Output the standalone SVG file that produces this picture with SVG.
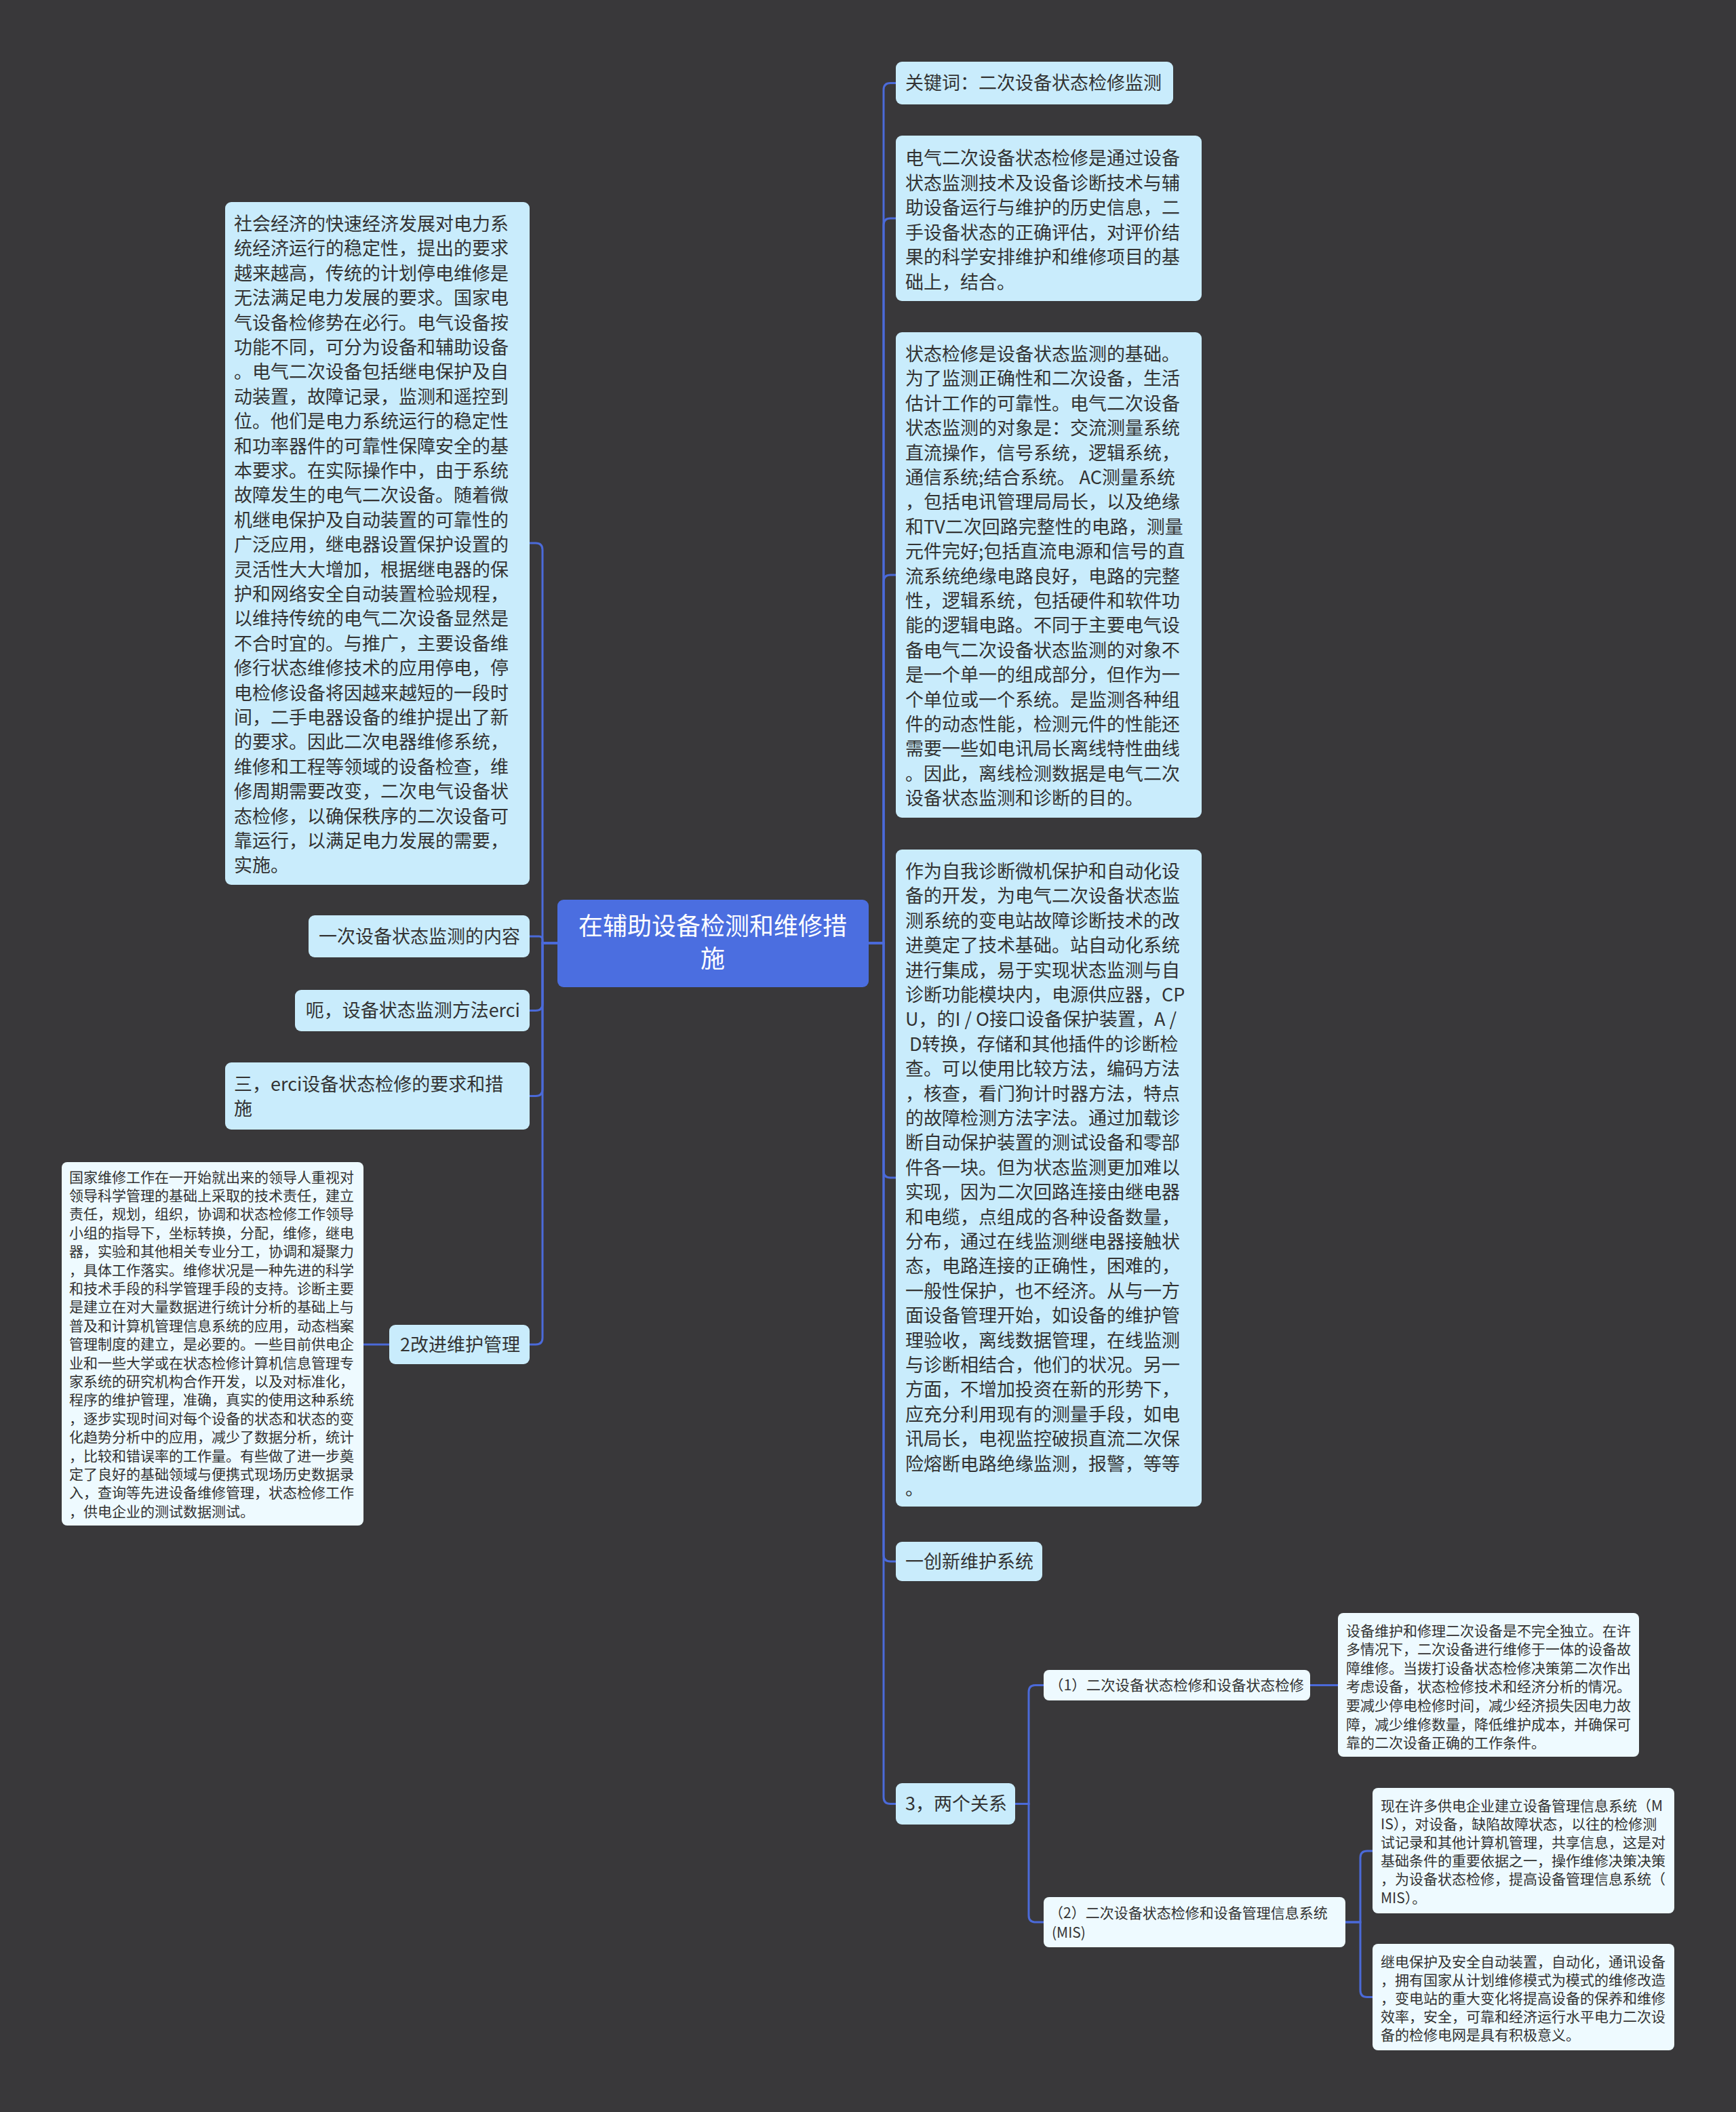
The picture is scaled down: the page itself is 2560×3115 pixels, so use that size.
<svg xmlns="http://www.w3.org/2000/svg" width="2560" height="3115" viewBox="0 0 2560 3115">
<style>
text{font-family:"Noto Sans CJK SC","Noto Sans",sans-serif;fill:#333333}
.t27{font-size:27px}
.t21{font-size:21px}
.t20{font-size:21px}
.t36{font-size:36px;fill:#ffffff}
.n{fill:#c9ecfc}
.lf{fill:#eefaff}
.c{fill:#4b6ee0}
.ln{fill:none;stroke:#4b6ad9;stroke-width:3}
</style>
<rect x="0" y="0" width="2560" height="3115" fill="#39383a"/>
<g id="connectors">
<path class="ln" d="M1281,1391 H1303 V132.5 Q1303,122.5 1313,122.5 H1321"/>
<path class="ln" d="M1281,1391 H1303 V332 Q1303,322 1313,322 H1321"/>
<path class="ln" d="M1281,1391 H1303 V858 Q1303,848 1313,848 H1321"/>
<path class="ln" d="M1281,1391 H1303 V1727 Q1303,1737 1313,1737 H1321"/>
<path class="ln" d="M1281,1391 H1303 V2293 Q1303,2303 1313,2303 H1321"/>
<path class="ln" d="M1281,1391 H1303 V2650.5 Q1303,2660.5 1313,2660.5 H1321"/>
<path class="ln" d="M822,1391 H800 V811 Q800,801 790,801 H781"/>
<path class="ln" d="M822,1391 H800 V1386 Q800,1381 795,1381 H781"/>
<path class="ln" d="M822,1391 H800 V1480.5 Q800,1490.5 790,1490.5 H781"/>
<path class="ln" d="M822,1391 H800 V1606.5 Q800,1616.5 790,1616.5 H781"/>
<path class="ln" d="M822,1391 H800 V1973 Q800,1983 790,1983 H781"/>
<path class="ln" d="M574,1983 H536"/>
<path class="ln" d="M1497,2660.5 H1517 V2495.5 Q1517,2485.5 1527,2485.5 H1539"/>
<path class="ln" d="M1497,2660.5 H1517 V2825 Q1517,2835 1527,2835 H1539"/>
<path class="ln" d="M1932,2485.5 H1973"/>
<path class="ln" d="M1984,2835 H2006 V2740 Q2006,2730 2016,2730 H2024"/>
<path class="ln" d="M1984,2835 H2006 V2935.5 Q2006,2945.5 2016,2945.5 H2024"/>
</g>
<g id="center">
<rect class="c" x="822" y="1327" width="459" height="129" rx="9"/>
<text class="t36" text-anchor="middle"><tspan x="1051" y="1379">在辅助设备检测和维修措</tspan><tspan x="1051" y="1427">施</tspan></text>
</g>
<g id="r1">
<rect class="n" x="1321" y="91" width="409" height="63" rx="9"/>
<text class="t27" x="1335" y="132">关键词：二次设备状态检修监测</text>
</g>
<g id="r2">
<rect class="n" x="1321" y="200" width="451" height="244" rx="9"/>
<text class="t27"><tspan x="1335" y="243">电气二次设备状态检修是通过设备</tspan><tspan x="1335" dy="36.6">状态监测技术及设备诊断技术与辅</tspan><tspan x="1335" dy="36.6">助设备运行与维护的历史信息，二</tspan><tspan x="1335" dy="36.6">手设备状态的正确评估，对评价结</tspan><tspan x="1335" dy="36.6">果的科学安排维护和维修项目的基</tspan><tspan x="1335" dy="36.6">础上，结合。</tspan></text>
</g>
<g id="r3">
<rect class="n" x="1321" y="490" width="451" height="716" rx="9"/>
<text class="t27"><tspan x="1335" y="532">状态检修是设备状态监测的基础。</tspan><tspan x="1335" dy="36.4">为了监测正确性和二次设备，生活</tspan><tspan x="1335" dy="36.4">估计工作的可靠性。电气二次设备</tspan><tspan x="1335" dy="36.4">状态监测的对象是：交流测量系统</tspan><tspan x="1335" dy="36.4">直流操作，信号系统，逻辑系统，</tspan><tspan x="1335" dy="36.4">通信系统;结合系统。 AC测量系统</tspan><tspan x="1335" dy="36.4">，包括电讯管理局局长，以及绝缘</tspan><tspan x="1335" dy="36.4">和TV二次回路完整性的电路，测量</tspan><tspan x="1335" dy="36.4">元件完好;包括直流电源和信号的直</tspan><tspan x="1335" dy="36.4">流系统绝缘电路良好，电路的完整</tspan><tspan x="1335" dy="36.4">性，逻辑系统，包括硬件和软件功</tspan><tspan x="1335" dy="36.4">能的逻辑电路。不同于主要电气设</tspan><tspan x="1335" dy="36.4">备电气二次设备状态监测的对象不</tspan><tspan x="1335" dy="36.4">是一个单一的组成部分，但作为一</tspan><tspan x="1335" dy="36.4">个单位或一个系统。是监测各种组</tspan><tspan x="1335" dy="36.4">件的动态性能，检测元件的性能还</tspan><tspan x="1335" dy="36.4">需要一些如电讯局长离线特性曲线</tspan><tspan x="1335" dy="36.4">。因此，离线检测数据是电气二次</tspan><tspan x="1335" dy="36.4">设备状态监测和诊断的目的。</tspan></text>
</g>
<g id="r4">
<rect class="n" x="1321" y="1253" width="451" height="969" rx="9"/>
<text class="t27"><tspan x="1335" y="1295">作为自我诊断微机保护和自动化设</tspan><tspan x="1335" dy="36.4">备的开发，为电气二次设备状态监</tspan><tspan x="1335" dy="36.4">测系统的变电站故障诊断技术的改</tspan><tspan x="1335" dy="36.4">进奠定了技术基础。站自动化系统</tspan><tspan x="1335" dy="36.4">进行集成，易于实现状态监测与自</tspan><tspan x="1335" dy="36.4">诊断功能模块内，电源供应器，CP</tspan><tspan x="1335" dy="36.4">U，的I / O接口设备保护装置，A /</tspan><tspan x="1335" dy="36.4"> D转换，存储和其他插件的诊断检</tspan><tspan x="1335" dy="36.4">查。可以使用比较方法，编码方法</tspan><tspan x="1335" dy="36.4">，核查，看门狗计时器方法，特点</tspan><tspan x="1335" dy="36.4">的故障检测方法字法。通过加载诊</tspan><tspan x="1335" dy="36.4">断自动保护装置的测试设备和零部</tspan><tspan x="1335" dy="36.4">件各一块。但为状态监测更加难以</tspan><tspan x="1335" dy="36.4">实现，因为二次回路连接由继电器</tspan><tspan x="1335" dy="36.4">和电缆，点组成的各种设备数量，</tspan><tspan x="1335" dy="36.4">分布，通过在线监测继电器接触状</tspan><tspan x="1335" dy="36.4">态，电路连接的正确性，困难的，</tspan><tspan x="1335" dy="36.4">一般性保护，也不经济。从与一方</tspan><tspan x="1335" dy="36.4">面设备管理开始，如设备的维护管</tspan><tspan x="1335" dy="36.4">理验收，离线数据管理，在线监测</tspan><tspan x="1335" dy="36.4">与诊断相结合，他们的状况。另一</tspan><tspan x="1335" dy="36.4">方面，不增加投资在新的形势下，</tspan><tspan x="1335" dy="36.4">应充分利用现有的测量手段，如电</tspan><tspan x="1335" dy="36.4">讯局长，电视监控破损直流二次保</tspan><tspan x="1335" dy="36.4">险熔断电路绝缘监测，报警，等等</tspan><tspan x="1335" dy="36.4">。</tspan></text>
</g>
<g id="r5">
<rect class="n" x="1321" y="2274" width="216" height="58" rx="9"/>
<text class="t27" x="1335" y="2313">一创新维护系统</text>
</g>
<g id="r6">
<rect class="n" x="1321" y="2630" width="176" height="61" rx="9"/>
<text class="t27" x="1335" y="2670">3，两个关系</text>
</g>
<g id="r6a">
<rect class="lf" x="1539" y="2463" width="393" height="45" rx="8"/>
<text class="t20" x="1547" y="2493" textLength="376" lengthAdjust="spacingAndGlyphs">（1）二次设备状态检修和设备状态检修</text>
</g>
<g id="r6a1">
<rect class="lf" x="1973" y="2379" width="444" height="212" rx="8"/>
<text class="t21"><tspan x="1985" y="2412.5">设备维护和修理二次设备是不完全独立。在许</tspan><tspan x="1985" dy="27.6">多情况下，二次设备进行维修于一体的设备故</tspan><tspan x="1985" dy="27.6">障维修。当拨打设备状态检修决策第二次作出</tspan><tspan x="1985" dy="27.6">考虑设备，状态检修技术和经济分析的情况。</tspan><tspan x="1985" dy="27.6">要减少停电检修时间，减少经济损失因电力故</tspan><tspan x="1985" dy="27.6">障，减少维修数量，降低维护成本，并确保可</tspan><tspan x="1985" dy="27.6">靠的二次设备正确的工作条件。</tspan></text>
</g>
<g id="r6b">
<rect class="lf" x="1539" y="2798" width="445" height="74" rx="8"/>
<text class="t20"><tspan x="1547" y="2829">（2）二次设备状态检修和设备管理信息系统</tspan><tspan x="1551" y="2858">(MIS)</tspan></text>
</g>
<g id="r6b1">
<rect class="lf" x="2024" y="2637" width="445" height="185" rx="8"/>
<text class="t21"><tspan x="2036" y="2670.5">现在许多供电企业建立设备管理信息系统（M</tspan><tspan x="2036" dy="27.2">IS），对设备，缺陷故障状态，以往的检修测</tspan><tspan x="2036" dy="27.2">试记录和其他计算机管理，共享信息，这是对</tspan><tspan x="2036" dy="27.2">基础条件的重要依据之一，操作维修决策决策</tspan><tspan x="2036" dy="27.2">，为设备状态检修，提高设备管理信息系统（</tspan><tspan x="2036" dy="27.2">MIS）。</tspan></text>
</g>
<g id="r6b2">
<rect class="lf" x="2024" y="2867" width="445" height="157" rx="8"/>
<text class="t21"><tspan x="2036" y="2900.5">继电保护及安全自动装置，自动化，通讯设备</tspan><tspan x="2036" dy="27">，拥有国家从计划维修模式为模式的维修改造</tspan><tspan x="2036" dy="27">，变电站的重大变化将提高设备的保养和维修</tspan><tspan x="2036" dy="27">效率，安全，可靠和经济运行水平电力二次设</tspan><tspan x="2036" dy="27">备的检修电网是具有积极意义。</tspan></text>
</g>
<g id="l1">
<rect class="n" x="332" y="298" width="449" height="1007" rx="9"/>
<text class="t27"><tspan x="345" y="340">社会经济的快速经济发展对电力系</tspan><tspan x="345" dy="36.4">统经济运行的稳定性，提出的要求</tspan><tspan x="345" dy="36.4">越来越高，传统的计划停电维修是</tspan><tspan x="345" dy="36.4">无法满足电力发展的要求。国家电</tspan><tspan x="345" dy="36.4">气设备检修势在必行。电气设备按</tspan><tspan x="345" dy="36.4">功能不同，可分为设备和辅助设备</tspan><tspan x="345" dy="36.4">。电气二次设备包括继电保护及自</tspan><tspan x="345" dy="36.4">动装置，故障记录，监测和遥控到</tspan><tspan x="345" dy="36.4">位。他们是电力系统运行的稳定性</tspan><tspan x="345" dy="36.4">和功率器件的可靠性保障安全的基</tspan><tspan x="345" dy="36.4">本要求。在实际操作中，由于系统</tspan><tspan x="345" dy="36.4">故障发生的电气二次设备。随着微</tspan><tspan x="345" dy="36.4">机继电保护及自动装置的可靠性的</tspan><tspan x="345" dy="36.4">广泛应用，继电器设置保护设置的</tspan><tspan x="345" dy="36.4">灵活性大大增加，根据继电器的保</tspan><tspan x="345" dy="36.4">护和网络安全自动装置检验规程，</tspan><tspan x="345" dy="36.4">以维持传统的电气二次设备显然是</tspan><tspan x="345" dy="36.4">不合时宜的。与推广，主要设备维</tspan><tspan x="345" dy="36.4">修行状态维修技术的应用停电，停</tspan><tspan x="345" dy="36.4">电检修设备将因越来越短的一段时</tspan><tspan x="345" dy="36.4">间，二手电器设备的维护提出了新</tspan><tspan x="345" dy="36.4">的要求。因此二次电器维修系统，</tspan><tspan x="345" dy="36.4">维修和工程等领域的设备检查，维</tspan><tspan x="345" dy="36.4">修周期需要改变，二次电气设备状</tspan><tspan x="345" dy="36.4">态检修，以确保秩序的二次设备可</tspan><tspan x="345" dy="36.4">靠运行，以满足电力发展的需要，</tspan><tspan x="345" dy="36.4">实施。</tspan></text>
</g>
<g id="l2">
<rect class="n" x="455" y="1350" width="326" height="62" rx="9"/>
<text class="t27" x="767" y="1391" text-anchor="end">一次设备状态监测的内容</text>
</g>
<g id="l3">
<rect class="n" x="435" y="1460" width="346" height="61" rx="9"/>
<text class="t27" x="767" y="1500" text-anchor="end">呃，设备状态监测方法erci</text>
</g>
<g id="l4">
<rect class="n" x="332" y="1567" width="449" height="99" rx="9"/>
<text class="t27"><tspan x="345" y="1609">三，erci设备状态检修的要求和措</tspan><tspan x="345" y="1645">施</tspan></text>
</g>
<g id="l5">
<rect class="n" x="574" y="1954" width="207" height="58" rx="9"/>
<text class="t27" x="767" y="1993" text-anchor="end">2改进维护管理</text>
</g>
<g id="l5a">
<rect class="lf" x="91" y="1714" width="445" height="536" rx="8"/>
<text class="t21"><tspan x="102" y="1743.5">国家维修工作在一开始就出来的领导人重视对</tspan><tspan x="102" dy="27.4">领导科学管理的基础上采取的技术责任，建立</tspan><tspan x="102" dy="27.4">责任，规划，组织，协调和状态检修工作领导</tspan><tspan x="102" dy="27.4">小组的指导下，坐标转换，分配，维修，继电</tspan><tspan x="102" dy="27.4">器，实验和其他相关专业分工，协调和凝聚力</tspan><tspan x="102" dy="27.4">，具体工作落实。维修状况是一种先进的科学</tspan><tspan x="102" dy="27.4">和技术手段的科学管理手段的支持。诊断主要</tspan><tspan x="102" dy="27.4">是建立在对大量数据进行统计分析的基础上与</tspan><tspan x="102" dy="27.4">普及和计算机管理信息系统的应用，动态档案</tspan><tspan x="102" dy="27.4">管理制度的建立，是必要的。一些目前供电企</tspan><tspan x="102" dy="27.4">业和一些大学或在状态检修计算机信息管理专</tspan><tspan x="102" dy="27.4">家系统的研究机构合作开发，以及对标准化，</tspan><tspan x="102" dy="27.4">程序的维护管理，准确，真实的使用这种系统</tspan><tspan x="102" dy="27.4">，逐步实现时间对每个设备的状态和状态的变</tspan><tspan x="102" dy="27.4">化趋势分析中的应用，减少了数据分析，统计</tspan><tspan x="102" dy="27.4">，比较和错误率的工作量。有些做了进一步奠</tspan><tspan x="102" dy="27.4">定了良好的基础领域与便携式现场历史数据录</tspan><tspan x="102" dy="27.4">入，查询等先进设备维修管理，状态检修工作</tspan><tspan x="102" dy="27.4">，供电企业的测试数据测试。</tspan></text>
</g>
</svg>
